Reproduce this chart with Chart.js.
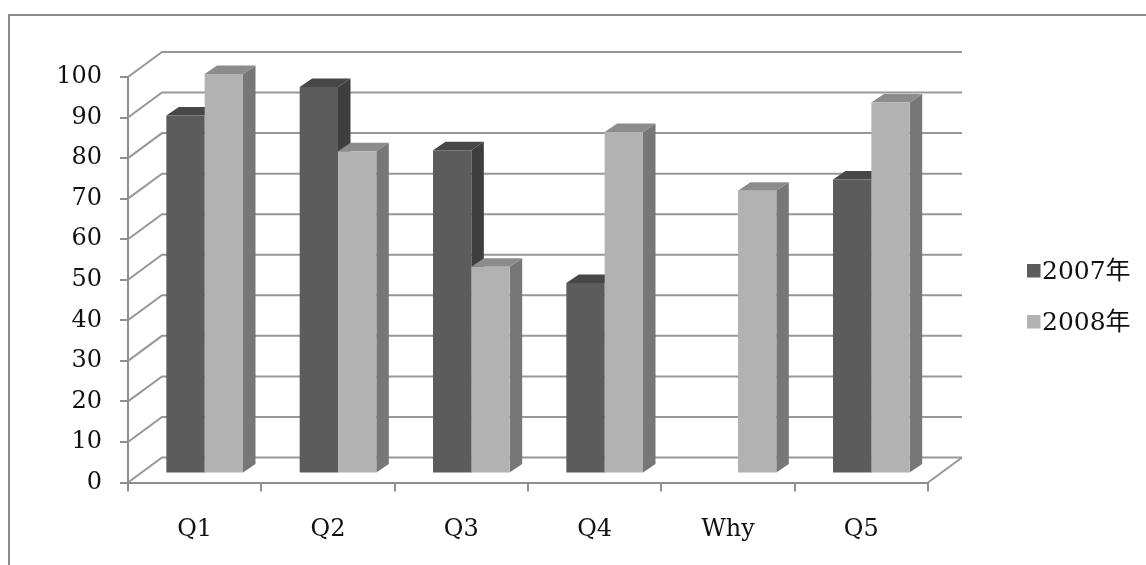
<!DOCTYPE html>
<html>
<head>
<meta charset="utf-8">
<script src="https://cdn.jsdelivr.net/npm/chart.js@4/dist/chart.umd.min.js"></script>
<style>
  html, body { margin: 0; padding: 0; background: #ffffff; }
  #wrap { position: relative; width: 1146px; height: 565px; overflow: hidden; }
  canvas { display: block; }
</style>
</head>
<body>
<div id="wrap"><canvas id="chart" width="1146" height="565"></canvas></div>
<script>
// Survey results per question, two years side by side
const categories = ['Q1', 'Q2', 'Q3', 'Q4', 'Why', 'Q5'];
const values2007 = [88.3, 95.3, 79.7, 47.0, null, 72.5];
const values2008 = [98.5, 79.5, 51.0, 84.2, 69.7, 91.5];
const seriesLabels = ['2007年', '2008年'];
const yTickValues = [0, 10, 20, 30, 40, 50, 60, 70, 80, 90, 100];

// Styling
const FONT_FAMILY = '"DejaVu Serif", "Noto Sans CJK JP", serif';
const GRID_COLOR = '#979797';
const AXIS_COLOR = '#8e8e8e';
const FRONT = ['#5c5c5c', '#b2b2b2'];
const SIDE = ['#3e3e3e', '#777777'];
const TOP = ['#474747', '#8c8c8c'];

// Oblique depth of the back wall and of the bars
const WALL_DX = 34, WALL_DY = -25;
const BAR_DX = 10, BAR_DY = -9;
const FACE_DX = 12.5, FACE_DY = -8.5;

function pathPoly(ctx, pts) {
  ctx.beginPath();
  ctx.moveTo(pts[0][0], pts[0][1]);
  for (let k = 1; k < pts.length; k++) ctx.lineTo(pts[k][0], pts[k][1]);
  ctx.closePath();
}

const frame3d = {
  id: 'frame3d',
  beforeDraw(chart) {
    const ctx = chart.ctx;
    ctx.save();
    ctx.fillStyle = '#ffffff';
    ctx.fillRect(0, 0, chart.width, chart.height);
    ctx.strokeStyle = '#8a8a8a';
    ctx.lineWidth = 2;
    ctx.strokeRect(9, 15, chart.width + 20, chart.height + 20);
    ctx.restore();
  },
  beforeDatasetsDraw(chart) {
    const ctx = chart.ctx;
    const { left, right, bottom } = chart.chartArea;
    const y = chart.scales.y;

    // back wall grid lines with their slanted side-wall segments
    ctx.save();
    ctx.strokeStyle = GRID_COLOR;
    ctx.lineWidth = 2;
    ctx.lineJoin = 'miter';
    y.ticks.forEach(t => {
      const py = y.getPixelForValue(t.value);
      ctx.beginPath();
      ctx.moveTo(left, py);
      ctx.lineTo(left + WALL_DX, py + WALL_DY);
      ctx.lineTo(right + WALL_DX, py + WALL_DY);
      ctx.stroke();
    });
    // right edge of the floor
    ctx.beginPath();
    ctx.moveTo(right, bottom);
    ctx.lineTo(right + WALL_DX, bottom + WALL_DY);
    ctx.stroke();
    ctx.restore();

    // 3D bars: side and top faces first, then the library's own front face
    ctx.save();
    ctx.translate(BAR_DX, BAR_DY);
    const n = chart.data.labels.length;
    for (let j = 0; j < n; j++) {
      chart.data.datasets.forEach((ds, i) => {
        if (ds.data[j] == null) return;
        const el = chart.getDatasetMeta(i).data[j];
        const L = el.x - el.width / 2, R = el.x + el.width / 2;
        const T = el.y, B = el.base;
        ctx.fillStyle = SIDE[i];
        pathPoly(ctx, [[R, T], [R + FACE_DX, T + FACE_DY], [R + FACE_DX, B + FACE_DY], [R, B]]);
        ctx.fill();
        ctx.fillStyle = TOP[i];
        pathPoly(ctx, [[L, T], [L + FACE_DX, T + FACE_DY], [R + FACE_DX, T + FACE_DY], [R, T]]);
        ctx.fill();
        el.draw(ctx);
      });
    }
    ctx.restore();
    return false;
  },
  afterDraw(chart) {
    // legend on the right
    const ctx = chart.ctx;
    const rows = [271, 322];
    ctx.save();
    ctx.font = '25px ' + FONT_FAMILY;
    ctx.textBaseline = 'middle';
    ctx.textAlign = 'left';
    chart.data.datasets.forEach((ds, i) => {
      const cy = rows[i];
      ctx.fillStyle = ds.backgroundColor;
      ctx.fillRect(1027, cy - 7, 13.5, 13.5);
      ctx.fillStyle = '#111111';
      ctx.fillText(ds.label, 1042, cy + 1);
    });
    ctx.restore();
  }
};

new Chart(document.getElementById('chart'), {
  type: 'bar',
  data: {
    labels: categories,
    datasets: [
      { label: seriesLabels[0], data: values2007, backgroundColor: FRONT[0], borderWidth: 0 },
      { label: seriesLabels[1], data: values2008, backgroundColor: FRONT[1], borderWidth: 0 }
    ]
  },
  options: {
    responsive: false,
    animation: false,
    events: [],
    layout: { padding: { left: 0, right: 218, top: 77, bottom: 0 } },
    datasets: { bar: { categoryPercentage: 0.575, barPercentage: 1.0 } },
    plugins: { legend: { display: false }, tooltip: { enabled: false } },
    scales: {
      x: {
        type: 'category',
        grid: { drawOnChartArea: false, drawTicks: true, tickLength: 9, color: AXIS_COLOR, lineWidth: 2, offset: true },
        border: { display: true, color: AXIS_COLOR, width: 2 },
        ticks: { color: '#111111', font: { family: FONT_FAMILY, size: 24 }, padding: 24, maxRotation: 0 },
        afterFit: s => { s.height = 82.5; }
      },
      y: {
        min: 0,
        max: 100,
        afterBuildTicks: s => { s.ticks = yTickValues.map(v => ({ value: v })); },
        grid: { drawOnChartArea: false, drawTicks: true, tickLength: 8, color: AXIS_COLOR, lineWidth: 2 },
        border: { display: true, color: AXIS_COLOR, width: 2 },
        ticks: { color: '#111111', font: { family: FONT_FAMILY, size: 24 }, padding: 18 },
        afterFit: s => { s.width = 128; }
      }
    }
  },
  plugins: [frame3d]
});
</script>
</body>
</html>
